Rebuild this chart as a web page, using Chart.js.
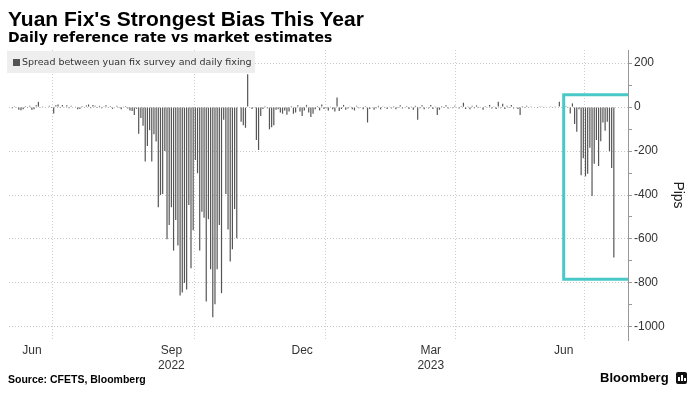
<!DOCTYPE html>
<html lang="en">
<head>
<meta charset="UTF-8">
<title>Yuan Fix's Strongest Bias This Year</title>
<style>
  html, body { margin: 0; padding: 0; background: #fff; }
  .wrap { position: relative; width: 696px; height: 396px; overflow: hidden; }
  #chart { position: absolute; left: 0; top: 0; }
  .title { position: absolute; left: 8px; top: 8px; font: bold 21px/21px 'Liberation Sans', Arial, sans-serif; color: #000; white-space: nowrap; }
  .subtitle { position: absolute; left: 8px; top: 30px; font: bold 14px/14px 'DejaVu Sans', sans-serif; color: #000; white-space: nowrap; }
  .legend { position: absolute; left: 7px; top: 51px; width: 248px; height: 22px; background: #eeeeee; box-sizing: border-box;
            padding-left: 15px; font: 9.5px/22px 'DejaVu Sans', sans-serif; color: #333; white-space: nowrap; }
  .legend .sw { position: absolute; left: 6px; top: 8px; width: 7px; height: 7px; background: #555; }
  .source { position: absolute; left: 8px; top: 373px; font: bold 10.5px/12px 'Liberation Sans Narrow', 'Liberation Sans', sans-serif; color: #000; }
  .brand { position: absolute; left: 600px; top: 371px; font: bold 13px/14px 'Liberation Sans', Arial, sans-serif; color: #000; }
  .logo { position: absolute; left: 676px; top: 372px; width: 11px; height: 12px; background: #111; border-radius: 2px; }
  .logo i { position: absolute; bottom: 3px; width: 2px; background: #fff; }
</style>
</head>
<body>
<div class="wrap">
  <canvas id="chart" width="696" height="396"></canvas>
  <div class="title">Yuan Fix's Strongest Bias This Year</div>
  <div class="subtitle">Daily reference rate vs market estimates</div>
  <div class="legend"><span class="sw"></span>Spread between yuan fix survey and daily fixing</div>
  <div class="source">Source: CFETS, Bloomberg</div>
  <div class="brand">Bloomberg</div>
  <div class="logo"><i style="left:2px;height:4px"></i><i style="left:5px;height:6px"></i><i style="left:8px;height:3px"></i></div>
</div>

<script src="https://cdn.jsdelivr.net/npm/chart.js"></script>
<script>
  // spread (pips) per trading day, one array per month
  var months = ['2022-06', '2022-07', '2022-08', '2022-09', '2022-10', '2022-11', '2022-12',
                '2023-01', '2023-02', '2023-03', '2023-04', '2023-05', '2023-06', '2023-07'];
  var jun22 = [3, -5, 4, -3, -12, -14, -10, 5, -4, 6, -12, -10, 8, 24, -3, 4, -2, 3, 6, -4];
  var jul22 = [-29, 8, 12, -4, 10, -3, 8, -5, 6, -2, 3, -10, -8, 5, -3, 7, 12, -5, 10, 6, -4];
  var aug22 = [6, -5, 4, 8, -3, 5, -8, 3, 6, -4, -10, 3, 5, -6, -15, -18, -36, -8, -121, -50, -85, -248, -177];
  var sep22 = [-105, -248, -124, -157, -456, -400, -395, -200, -601, -536, -456, -653, -514, -630, -857, -844, -800, -830, -445, -733, -560];
  var oct22 = [-241, -301, -653, -476, -503, -885, -510, -738, -956, -897, -738, -536, -847, -57, -395, -557];
  var nov22 = [-703, -647, -464, -597, 3, -67, -82, -94, 150, -3, -8, -3, -150, -195, -40, -8, 5, -5, -101, -92, -82, -12];
  var dec22 = [-10, -25, -30, -15, -35, -20, 5, -30, -25, 8, -20, -40, -15, 10, -25, -45, -30, -10, 5, -15, 12, -8];
  var jan23 = [-5, -15, 3, -10, -20, 44, -18, -8, 10, -12, -6, 4, -10, -15, 6, -5, 3];
  var feb23 = [-10, 5, -70, -8, 3, -12, -5, 6, -10, 4, -3, -8, 2, -6, 5, -10, -4, 8, -6, -3];
  var mar23 = [5, -8, 4, -12, 6, -58, -5, 8, -10, 3, -6, 10, -8, 4, -36, -12, 5, -4, 8, -6, 3, -5, 6];
  var apr23 = [3, -6, 5, 20, -8, 4, -10, 6, -5, 8, -4, 3, -12, 5, -3, 10, -6, 4, -8];
  var may23 = [24, -5, 15, -8, 6, -4, 10, -6, 3, -8, -36, 5, -4, 6, -3, 4, -2, 3, -4, 2];
  var jun23 = [2, -3, 3, -2, 4, -3, 2, 3, 24, -2, 3, 5, -3, -29, 17, -77, -112, -10, -310, -233];
  var jul23 = [-315, -303, -185, -404, -258, -150, -268, -155, -70, -107, -67, -201, -277, -685, null, null, null, null, null, null];
  var monthData = [jun22, jul22, aug22, sep22, oct22, nov22, dec22, jan23, feb23, mar23, apr23, may23, jun23, jul23];

  // axis labels (shown mid-month) and quarter gridlines
  var tickMonths = {'2022-06': ['Jun'], '2022-09': ['Sep', '2022'], '2022-12': ['Dec'], '2023-03': ['Mar', '2023'], '2023-06': ['Jun']};
  var gridMonths = ['2022-07', '2022-10', '2023-01', '2023-04', '2023-07'];
  var yTicks = [200, 0, -200, -400, -600, -800, -1000];
  // highlight box
  var boxFrom = '2023-06 #11';
  var boxTop = 56, boxBottom = -783;

  var labels = [], values = [], tickText = {}, gridIdx = [];
  months.forEach(function(m, k) {
    var arr = monthData[k];
    if (tickMonths[m]) tickText[labels.length + Math.floor(arr.length / 2)] = tickMonths[m];
    if (gridMonths.indexOf(m) >= 0) gridIdx.push(labels.length);
    arr.forEach(function(v, d) {
      labels.push(m + ' #' + (d + 1));
      values.push(v);
    });
  });

  var focusBox = {
    id: 'focusBox',
    afterDatasetsDraw: function(chart) {
      var ctx = chart.ctx, area = chart.chartArea;
      var x = chart.scales.x, y = chart.scales.y;
      var left = x.getPixelForValue(labels.indexOf(boxFrom));
      var top = y.getPixelForValue(boxTop), bottom = y.getPixelForValue(boxBottom);
      ctx.save();
      ctx.strokeStyle = '#48c9c8';
      ctx.lineWidth = 3;
      ctx.beginPath();
      ctx.moveTo(area.right, top);
      ctx.lineTo(left, top);
      ctx.lineTo(left, bottom);
      ctx.lineTo(area.right, bottom);
      ctx.stroke();
      ctx.restore();
    }
  };

  new Chart(document.getElementById('chart'), {
    type: 'bar',
    data: {
      labels: labels,
      datasets: [{
        label: 'Spread between yuan fix survey and daily fixing',
        data: values,
        backgroundColor: '#555555',
        barPercentage: 0.55,
        categoryPercentage: 1
      }]
    },
    options: {
      responsive: false,
      animation: false,
      layout: { padding: { left: 9, top: 50, right: 0, bottom: 0 } },
      plugins: { legend: { display: false }, tooltip: { enabled: false } },
      scales: {
        x: {
          afterFit: function(s) { s.height = 56; },
          grid: {
            offset: true,
            drawTicks: false,
            color: function(c) { return gridIdx.indexOf(c.index) >= 0 ? '#cfcfcf' : 'rgba(0,0,0,0)'; }
          },
          border: { display: false, dash: [1, 2] },
          ticks: {
            autoSkip: false,
            maxRotation: 0,
            minRotation: 0,
            padding: 3,
            color: '#333',
            font: { family: "'Liberation Sans Narrow', 'Liberation Sans', sans-serif", size: 12, lineHeight: 1.25 },
            callback: function(v, i) { return tickText[i] || ''; }
          }
        },
        y: {
          position: 'right',
          min: -1060,
          max: 260,
          afterFit: function(s) { s.width = 68; },
          grid: {
            color: function(c) { return c.tick && yTicks.indexOf(c.tick.value) >= 0 ? '#c8c8c8' : 'rgba(0,0,0,0)'; },
            tickColor: function(c) { return c.tick && c.tick.value % 100 === 0 ? '#999' : 'rgba(0,0,0,0)'; },
            tickLength: 4
          },
          border: { display: true, color: '#999', dash: [1, 2] },
          ticks: {
            stepSize: 100,
            includeBounds: false,
            padding: 2,
            color: '#333',
            font: { family: "'Liberation Sans', Arial, sans-serif", size: 12 },
            callback: function(v) { return yTicks.indexOf(v) >= 0 ? String(v) : ''; }
          },
          title: {
            display: true,
            text: 'Pips',
            color: '#222',
            font: { family: "'Liberation Sans', Arial, sans-serif", size: 14 },
            padding: { top: 10, bottom: 0 }
          }
        }
      }
    },
    plugins: [focusBox]
  });
</script>
</body>
</html>
